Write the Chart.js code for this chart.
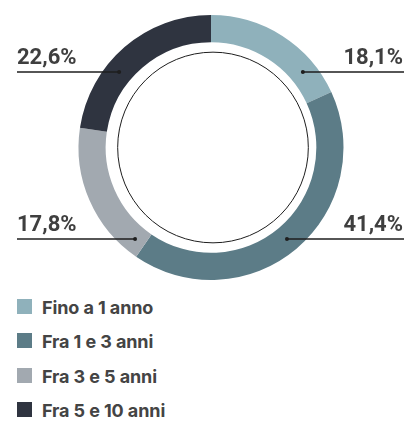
<!DOCTYPE html>
<html>
<head>
<meta charset="utf-8">
<script src="https://cdn.jsdelivr.net/npm/chart.js@4.4.0/dist/chart.umd.min.js"></script>
<style>
    html, body { margin: 0; padding: 0; background: #fff; }
    #wrap { position: relative; width: 417px; height: 290px; }
    #legend { list-style: none; margin: 0; padding: 0; position: absolute; left: 17px; top: 299px; }
    #legend li { height: 34.3px; display: flex; align-items: flex-start; font: 700 18px Inter, sans-serif; letter-spacing: -0.1px; color: #444; }
    #legend .sw { width: 15px; height: 15px; margin-right: 10px; flex: none; }
    #legend .tx { line-height: 15px; position: relative; top: 1px; }
</style>
</head>
<body>
<div id="wrap"><canvas id="durationChart"></canvas></div>
<ul id="legend"></ul>
<script>
const categories = ['Fino a 1 anno', 'Fra 1 e 3 anni', 'Fra 3 e 5 anni', 'Fra 5 e 10 anni'];
const shares = [18.1, 41.4, 17.8, 22.6];
const colors = ['#8fb1bb', '#5c7c87', '#a2a9b0', '#2f3440'];

const fmt = (v) => v.toFixed(1).replace('.', ',') + '%';

// leader lines + inner ring
const calloutPlugin = {
    id: 'callouts',
    afterDatasetsDraw(chart) {
        const ctx = chart.ctx;
        const arcs = chart.getDatasetMeta(0).data;
        if (!arcs.length) return;
        const cx = arcs[0].x, cy = arcs[0].y;
        const outer = arcs[0].outerRadius, inner = arcs[0].innerRadius;
        const rMid = (outer + inner) / 2;

        ctx.save();
        ctx.strokeStyle = '#1e1e1e';
        ctx.lineWidth = 1;
        ctx.beginPath();
        ctx.arc(cx + 2, cy, inner - 10, 0, Math.PI * 2);
        ctx.stroke();

        arcs.forEach((arc, i) => {
            const mid = (arc.startAngle + arc.endAngle) / 2;
            const right = Math.cos(mid) > 0;
            const lower = Math.sin(mid) > 0;
            const lineY = lower ? cy + 91.5 : cy - 75.5;
            const dx = Math.sqrt(Math.max(0, rMid * rMid - (lineY - cy) * (lineY - cy)));
            const dotX = right ? cx + dx : cx - dx;
            const endX = right ? 404 : 17;

            ctx.strokeStyle = '#1e1e1e';
            ctx.lineWidth = 1.3;
            ctx.beginPath();
            ctx.moveTo(dotX, lineY);
            ctx.lineTo(endX, lineY);
            ctx.stroke();
            ctx.fillStyle = '#1e1e1e';
            ctx.beginPath();
            ctx.arc(dotX, lineY, 2, 0, Math.PI * 2);
            ctx.fill();

            ctx.fillStyle = '#3f3f3f';
            ctx.font = 'bold 22px Roboto, sans-serif';
            ctx.textBaseline = 'alphabetic';
            ctx.textAlign = right ? 'right' : 'left';
            ctx.fillText(fmt(shares[i]), right ? 403 : 17, lineY - 8);
        });
        ctx.restore();
    }
};

new Chart(document.getElementById('durationChart').getContext('2d'), {
    type: 'doughnut',
    data: {
        labels: categories,
        datasets: [{
            data: shares,
            backgroundColor: colors,
            borderWidth: 0
        }]
    },
    options: {
        responsive: true,
        maintainAspectRatio: false,
        animation: false,
        events: [],
        cutout: '79.5%',
        layout: { padding: { left: 5, right: 0, top: 15, bottom: 10 } },
        plugins: { legend: { display: false }, tooltip: { enabled: false } }
    },
    plugins: [calloutPlugin]
});

const legend = document.getElementById('legend');
categories.forEach((name, i) => {
    const li = document.createElement('li');
    const sw = document.createElement('span');
    sw.className = 'sw';
    sw.style.background = colors[i];
    const tx = document.createElement('span');
    tx.className = 'tx';
    tx.textContent = name;
    li.appendChild(sw);
    li.appendChild(tx);
    legend.appendChild(li);
});
</script>
</body>
</html>
